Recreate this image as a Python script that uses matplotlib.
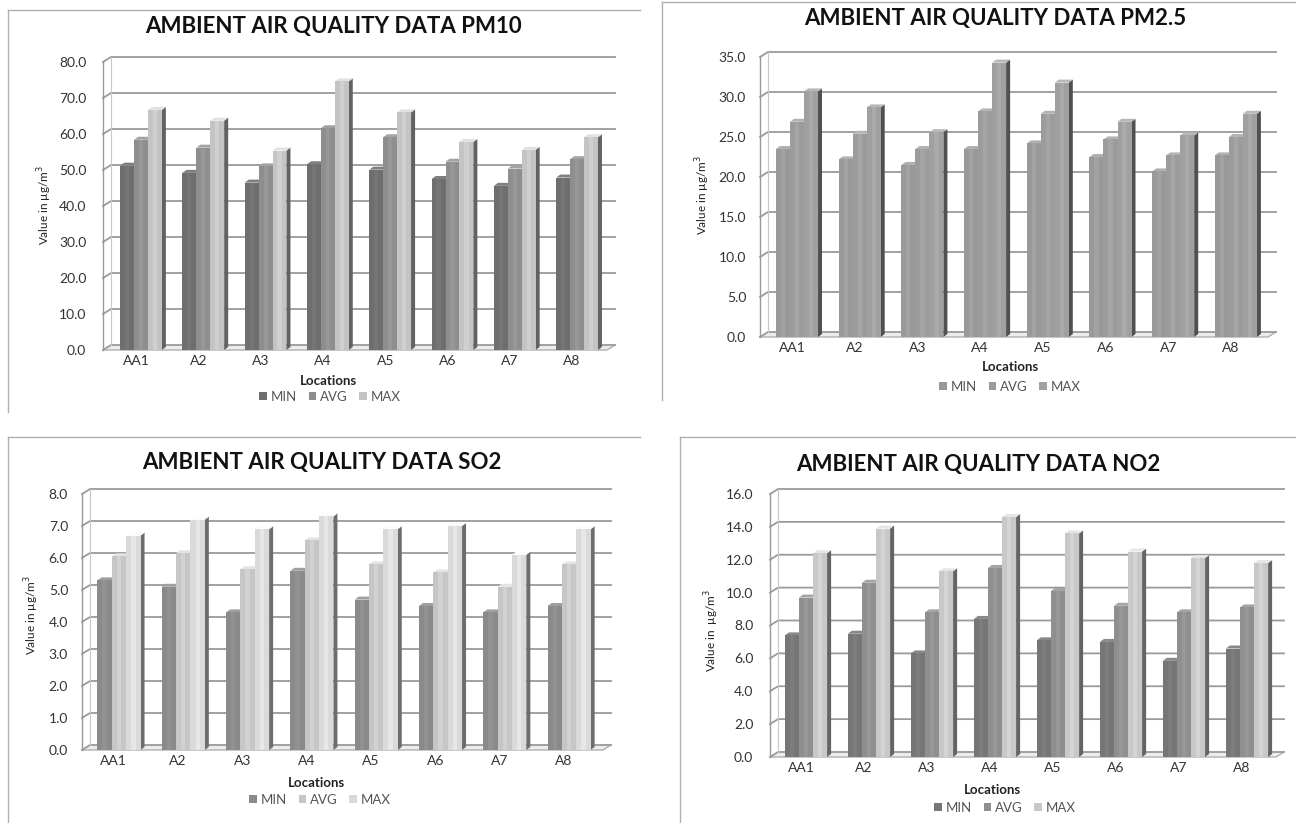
import numpy as np
import matplotlib
matplotlib.use('Agg')
from matplotlib import pyplot as plt
from matplotlib.patches import Rectangle, Polygon, Patch
from matplotlib.lines import Line2D

plt.rcParams['font.family'] = ['Lato', 'DejaVu Sans']

# data
locations = ['AA1', 'A2', 'A3', 'A4', 'A5', 'A6', 'A7', 'A8']
series = ['MIN', 'AVG', 'MAX']

pm10_min = [51.2, 49.2, 46.5, 51.6, 50.1, 47.5, 45.6, 47.9]
pm10_avg = [58.4, 56.2, 51.0, 61.6, 59.1, 52.3, 50.4, 53.0]
pm10_max = [66.7, 63.7, 55.4, 74.6, 66.0, 57.8, 55.6, 59.1]

pm25_min = [23.5, 22.2, 21.5, 23.5, 24.2, 22.5, 20.7, 22.7]
pm25_avg = [26.9, 25.4, 23.5, 28.2, 27.9, 24.7, 22.7, 25.0]
pm25_max = [30.7, 28.7, 25.6, 34.3, 31.8, 26.9, 25.2, 27.9]

so2_min = [5.3, 5.1, 4.3, 5.6, 4.7, 4.5, 4.3, 4.5]
so2_avg = [6.05, 6.15, 5.65, 6.55, 5.8, 5.55, 5.1, 5.8]
so2_max = [6.7, 7.2, 6.9, 7.3, 6.9, 7.0, 6.1, 6.9]

no2_min = [7.4, 7.5, 6.3, 8.4, 7.1, 7.0, 5.85, 6.6]
no2_avg = [9.7, 10.6, 8.8, 11.5, 10.1, 9.2, 8.8, 9.1]
no2_max = [12.4, 13.9, 11.3, 14.6, 13.6, 12.5, 12.1, 11.8]

W, H = 1296, 823
fig = plt.figure(figsize=(W / 100, H / 100), dpi=100)
fig.patch.set_facecolor('white')


def fx(px):
    return px / W


def fy(py):
    return 1 - py / H


def shade(c, f):
    c = np.array(matplotlib.colors.to_rgb(c))
    return tuple(np.clip(c * f, 0, 1))


def draw_panel(values, colors, title, ylabel, ymax, step, p):
    """p: pixel layout of one panel"""
    left, right, y0, ytop, c0, sp = p['left'], p['right'], p['y0'], p['ytop'], p['c0'], p['sp']
    ax = fig.add_axes([fx(left), fy(y0), (right - left) / W, (y0 - ytop) / H])
    xl, xr = (left - c0) / sp, (right - c0) / sp
    ax.set_xlim(xl, xr)
    ax.set_ylim(0, ymax)
    ax.patch.set_alpha(0)
    for s in ax.spines.values():
        s.set_visible(False)

    upx = ymax / (y0 - ytop)          # data units per pixel (y)
    wdx, wdy = 8 / sp, 5 * upx        # wall depth
    bdx, bdy = 4 / sp, 3 * upx        # bar depth
    gcol = '#9a9a9a'

    # floor
    ax.add_patch(Polygon([(xl, 0), (xr, 0), (xr + wdx, wdy), (xl + wdx, wdy)],
                         closed=True, fc='#ececec', ec='none', clip_on=False, zorder=1))
    ax.plot([xl, xr, xr + wdx], [0, 0, wdy], color='#b0b0b0', lw=1, clip_on=False, zorder=1)

    ticks = np.arange(0, ymax + step / 2, step)
    for t in ticks:
        ax.plot([xl, xl + wdx, xr + wdx], [t, t + wdy, t + wdy], color=gcol, lw=1.3,
                clip_on=False, zorder=1)
    ax.plot([xl, xl], [0, ymax], color='#999999', lw=1, clip_on=False, zorder=1)
    ax.plot([xl + wdx, xl + wdx], [wdy, ymax + wdy], color='#c8c8c8', lw=0.8, clip_on=False, zorder=1)

    n = len(series)
    gw = 0.67
    bw = gw / n
    x = np.arange(len(locations))
    z = 2
    for i in x:
        for j in range(n):
            v = values[j][i]
            x0 = i - gw / 2 + j * bw
            c = colors[j]
            ax.add_patch(Polygon([(x0 + bw, 0), (x0 + bw + bdx, bdy), (x0 + bw + bdx, v + bdy), (x0 + bw, v)],
                                 closed=True, fc=shade(c, 0.5), ec='none', zorder=z, clip_on=False))
            ax.add_patch(Polygon([(x0, v), (x0 + bdx, v + bdy), (x0 + bw + bdx, v + bdy), (x0 + bw, v)],
                                 closed=True, fc=shade(c, 1.15), ec='none', zorder=z, clip_on=False))
            ax.add_patch(Rectangle((x0, 0), bw, v, fc=c, ec='none', zorder=z + 0.5, clip_on=False))
            # slight highlight stripe like the soft shading of the original
            ax.add_patch(Rectangle((x0 + bw * 0.35, 0), bw * 0.3, v, fc=shade(c, 1.06), ec='none',
                                   zorder=z + 0.6, clip_on=False))
            z += 1

    ax.set_yticks(ticks)
    ax.set_yticklabels(['%.1f' % t for t in ticks], fontsize=10, color='#333333')
    ax.set_xticks(x - 0.08)
    ax.set_xticklabels(locations, fontsize=10, color='#333333')
    ax.tick_params(axis='y', length=0, pad=p['ypad'])
    ax.tick_params(axis='x', length=0, pad=3.5)

    fig.text(fx(p['tx']), fy(p['ty']), title, ha='center', va='center',
             fontsize=16, fontweight='bold', color='#111111')
    fig.text(fx(p['lx']), fy(p['ly']), 'Locations', ha='center', va='center',
             fontsize=9.5, fontweight='bold', color='#222222')
    fig.text(fx(p['yx']), fy(p['yy']), ylabel, ha='center', va='center', rotation=90,
             fontsize=8.5, color='#222222')
    handles = [Patch(fc=c, ec='none') for c in colors]
    fig.legend(handles, series, loc='center', bbox_to_anchor=(fx(p['gx']), fy(p['gy'])),
               ncol=3, frameon=False, fontsize=9.5, handlelength=0.55, handleheight=0.55,
               handletextpad=0.3, columnspacing=0.9, labelcolor='#555555')
    # panel frame (top and left edge)
    fl, ft, fr, fb = p['frame']
    fig.add_artist(Line2D([fx(fl), fx(fr)], [fy(ft), fy(ft)], color='#b0b0b0', lw=1))
    fig.add_artist(Line2D([fx(fl), fx(fl)], [fy(ft), fy(fb)], color='#b0b0b0', lw=1))
    return ax


draw_panel([pm10_min, pm10_avg, pm10_max], ['#6e6e6e', '#8e8e8e', '#c4c4c4'],
           'AMBIENT AIR QUALITY DATA PM10', 'Value in µg/m$^3$', 80, 10,
           dict(left=103, right=607, y0=350, ytop=62, c0=141, sp=62.3, ypad=12,
                tx=333, ty=27, lx=328, ly=381, yx=45, yy=205, gx=330, gy=397,
                frame=(8, 10, 640, 412)))

draw_panel([pm25_min, pm25_avg, pm25_max], ['#999999', '#9c9c9c', '#a0a0a0'],
           'AMBIENT AIR QUALITY DATA PM2.5', 'Value in µg/m$^3$', 35, 5,
           dict(left=760, right=1268, y0=337, ytop=57, c0=797, sp=62.7, ypad=10,
                tx=995, ty=18, lx=1010, ly=367, yx=703, yy=195, gx=1010, gy=387,
                frame=(662, 2, 1296, 400)))

draw_panel([so2_min, so2_avg, so2_max], ['#8a8a8a', '#c6c6c6', '#dadada'],
           'AMBIENT AIR QUALITY DATA SO2', 'Value in µg/m$^3$', 8, 1,
           dict(left=82, right=603, y0=750, ytop=494, c0=119, sp=64.3, ypad=10,
                tx=322, ty=462, lx=316, ly=783, yx=32, yy=615, gx=320, gy=800,
                frame=(8, 437, 640, 823)))

draw_panel([no2_min, no2_avg, no2_max], ['#767676', '#8f8f8f', '#c8c8c8'],
           'AMBIENT AIR QUALITY DATA NO2', 'Value in  µg/m$^3$', 16, 2,
           dict(left=770, right=1276, y0=757, ytop=494, c0=806, sp=63.0, ypad=12,
                tx=978, ty=464, lx=992, ly=790, yx=712, yy=630, gx=1005, gy=808,
                frame=(680, 437, 1296, 823)))

plt.savefig('out.png', dpi=100)
